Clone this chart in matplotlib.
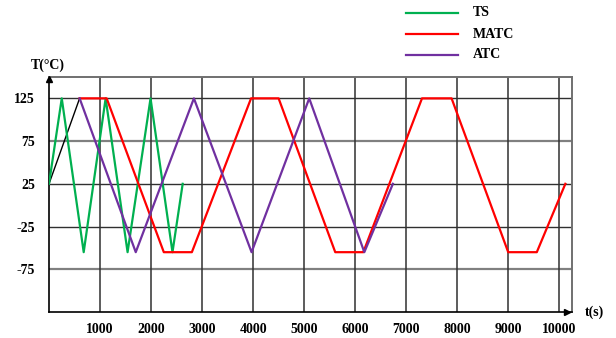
import numpy as np
import matplotlib
matplotlib.use("Agg")
import matplotlib.pyplot as plt
from matplotlib.lines import Line2D

# -----------------------------
# data
# -----------------------------
ts_t = [0, 250, 680, 1110, 1540, 1990, 2420, 2620]
ts_T = [25, 125, -55, 125, -55, 125, -55, 25]

ramp_t = [0, 600]
ramp_T = [25, 125]

matc_t = [600, 1130, 2250, 2800, 3960, 4500, 5610, 6160, 7310, 7890, 9000, 9560, 10120]
matc_T = [125, 125, -55, -55, 125, 125, -55, -55, 125, 125, -55, -55, 25]

atc_t = [600, 1700, 2840, 3970, 5100, 6180, 6740]
atc_T = [125, -55, 125, -55, 125, -55, 25]

x_ticks = [1000, 2000, 3000, 4000, 5000, 6000, 7000, 8000, 9000, 10000]
y_ticks = [125, 75, 25, -25, -75]
legend_names = ["TS", "MATC", "ATC"]
colors = ["#00b050", "#ff0000", "#7030a0"]

plt.rcParams["font.family"] = ["Liberation Serif", "DejaVu Serif"]
plt.rcParams["font.weight"] = "bold"
fs = 10

fig = plt.figure(figsize=(6.16, 3.38), dpi=100)
ax = fig.add_axes([49 / 616, 26 / 338, 523 / 616, 235 / 338])
ax.set_xlim(0, 10250)
ax.set_ylim(-125, 150)

# grid
for y in y_ticks:
    if y in (75, -75):
        ax.axhline(y, color="#808080", lw=1.6, zorder=1)
    else:
        ax.axhline(y, color="#303030", lw=1.0, zorder=1)
for x in x_ticks:
    ax.axvline(x, color="#303030", lw=1.1, zorder=1)

# series
ax.plot(ramp_t, ramp_T, color="black", lw=1.0, zorder=2)
ax.plot(ts_t, ts_T, color=colors[0], lw=1.6, zorder=3)
ax.plot(matc_t, matc_T, color=colors[1], lw=1.6, zorder=3)
ax.plot(atc_t, atc_T, color=colors[2], lw=1.6, zorder=4)

# axes styling
ax.set_xticks(x_ticks)
ax.set_yticks(y_ticks)
ax.set_xticklabels([str(v) for v in x_ticks], fontsize=fs, fontweight="bold")
ax.set_yticklabels([str(v) for v in y_ticks], fontsize=fs, fontweight="bold")
ax.tick_params(axis="both", length=0)
ax.tick_params(axis="x", pad=8)
ax.tick_params(axis="y", pad=10)
for side in ("left", "bottom"):
    ax.spines[side].set_color("black")
    ax.spines[side].set_linewidth(1.2)
for side in ("top", "right"):
    ax.spines[side].set_color("#707070")
    ax.spines[side].set_linewidth(1.4)

# arrow heads
ax.plot([0], [148], marker="^", color="black", ms=5, clip_on=False, zorder=5)
ax.plot([10150], [-125], marker=">", color="black", ms=5, clip_on=False, zorder=5)

fig.text(31 / 616, 1 - 65 / 338, "T(°C)", fontsize=fs, fontweight="bold", va="center", ha="left")
fig.text(585 / 616, 1 - 312 / 338, "t(s)", fontsize=fs, fontweight="bold", va="center", ha="left")

# legend drawn by hand
leg_y = [13, 34, 55]
for name, c, yy in zip(legend_names, colors, leg_y):
    yf = 1 - yy / 338
    fig.add_artist(Line2D([406 / 616, 458 / 616], [yf, yf], color=c, lw=1.6))
    fig.text(473 / 616, yf, name, fontsize=fs, fontweight="bold", va="center", ha="left")

fig.savefig("out.png", dpi=100)
